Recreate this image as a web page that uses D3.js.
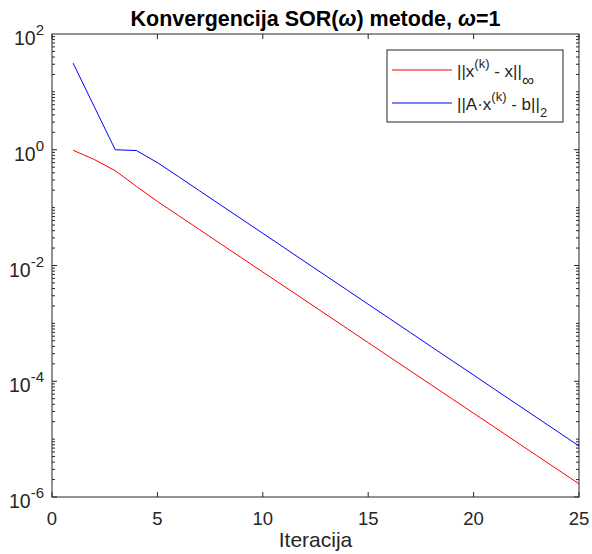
<!DOCTYPE html>
<html lang="en">
<head>
<meta charset="utf-8">
<title>Konvergencija SOR</title>
<script src="https://d3js.org/d3.v7.min.js"></script>
<style>
  body{margin:0;background:#fff;font-family:"Liberation Sans",Arial,sans-serif;}
  text{fill:#262626;}
</style>
</head>
<body>
<div id="chart"></div>
<script>
// data
var iter = [1,2,3,4,5,6,7,8,9,10,11,12,13,14,15,16,17,18,19,20,21,22,23,24,25]
var errInf = [0.98,0.68,0.434,0.234,0.128,0.073,0.0416,0.0237,0.0135,0.00771,0.0044,0.00251,0.00143,
              8.15e-4,4.65e-4,2.65e-4,1.51e-4,8.61e-5,4.91e-5,2.8e-5,1.6e-5,9.1e-6,5.19e-6,2.96e-6,1.69e-6]
var resid2 = [31.4,5.6,1.0,0.97,0.60,0.344,0.195,0.111,0.0632,0.036,0.0205,0.0116,0.00662,0.00377,
              0.00214,0.00122,6.93e-4,3.94e-4,2.24e-4,1.28e-4,7.26e-5,4.13e-5,2.35e-5,1.34e-5,7.6e-6]
var xTicks = [0,5,10,15,20,25]
var yExps = [2,0,-2,-4,-6]

var W = 592, H = 554
var m = {left:52, right:579, top:34, bottom:497}

var svg = d3.select("#chart").append("svg")
    .attr("width",W).attr("height",H)

var x = d3.scaleLinear().domain([0,25]).range([m.left,m.right])
var y = d3.scaleLog().domain([1e-6,1e2]).range([m.bottom,m.top])

var axCol = "#262626"

// box
svg.append("rect")
    .attr("x",m.left).attr("y",m.top)
    .attr("width",m.right-m.left).attr("height",m.bottom-m.top)
    .attr("fill","none").attr("stroke",axCol).attr("stroke-width",1)

// x ticks (inside, top and bottom)
xTicks.forEach(function(t){
    svg.append("line").attr("x1",x(t)).attr("x2",x(t)).attr("y1",m.bottom).attr("y2",m.bottom-5).attr("stroke",axCol)
    svg.append("line").attr("x1",x(t)).attr("x2",x(t)).attr("y1",m.top).attr("y2",m.top+5).attr("stroke",axCol)
    svg.append("text").attr("x",x(t)).attr("y",525)
        .attr("text-anchor","middle").style("font-size","18.5px").text(t)
})

// y ticks, majors every 2 decades with labels, minor ticks each decade
for (var e=-6; e<2; e++){
    for (var k=1; k<10; k++){
        var v = k*Math.pow(10,e)
        var len = (k==1) ? 5 : 3
        if (k==1 && (e%2)!=0) len = 3
        svg.append("line").attr("x1",m.left).attr("x2",m.left+len).attr("y1",y(v)).attr("y2",y(v)).attr("stroke",axCol)
        svg.append("line").attr("x1",m.right).attr("x2",m.right-len).attr("y1",y(v)).attr("y2",y(v)).attr("stroke",axCol)
    }
}
yExps.forEach(function(e){
    var t = svg.append("text").attr("x",m.left-8).attr("y",y(Math.pow(10,e))+11)
        .attr("text-anchor","end").style("font-size","19.5px")
    t.append("tspan").text("10")
    t.append("tspan").attr("dy",-10).style("font-size","15px").text(e)
})

// lines
var line = d3.line().x(function(d){return x(d[0])}).y(function(d){return y(d[1])})
svg.append("path").datum(d3.zip(iter,errInf)).attr("d",line)
    .attr("fill","none").attr("stroke","#ff0000").attr("stroke-width",1)
svg.append("path").datum(d3.zip(iter,resid2)).attr("d",line)
    .attr("fill","none").attr("stroke","#0000ff").attr("stroke-width",1)

// title
var tt = svg.append("text").attr("x",(m.left+m.right)/2).attr("y",26)
    .attr("text-anchor","middle").style("font-size","21.5px").style("font-weight","bold").style("fill","#000")
tt.append("tspan").text("Konvergencija SOR(")
tt.append("tspan").style("font-style","italic").text("\u03c9")
tt.append("tspan").text(") metode, ")
tt.append("tspan").style("font-style","italic").text("\u03c9")
tt.append("tspan").text("=1")

// x label
svg.append("text").attr("x",(m.left+m.right)/2).attr("y",547)
    .attr("text-anchor","middle").style("font-size","21px").text("Iteracija")

// legend
var lg = svg.append("g")
lg.append("rect").attr("x",387).attr("y",50).attr("width",176).attr("height",72)
    .attr("fill","#fff").attr("stroke",axCol).attr("stroke-width",1)
var rows = [{c:"#ff0000", y:70}, {c:"#0000ff", y:103}]
rows.forEach(function(r){
    lg.append("line").attr("x1",392).attr("x2",452).attr("y1",r.y).attr("y2",r.y)
        .attr("stroke",r.c).attr("stroke-width",1)
})
var l1 = lg.append("text").attr("x",457).attr("y",77).style("font-size","17px")
l1.append("tspan").text("||x")
l1.append("tspan").attr("dy",-9).style("font-size","13px").text("(k)")
l1.append("tspan").attr("dy",9).text(" - x||")
l1.append("tspan").attr("dy",9).style("font-size","17px").text("\u221e")
var l2 = lg.append("text").attr("x",457).attr("y",110).style("font-size","17px")
l2.append("tspan").text("||A\u00b7x")
l2.append("tspan").attr("dy",-9).style("font-size","13px").text("(k)")
l2.append("tspan").attr("dy",9).text(" - b||")
l2.append("tspan").attr("dy",7).style("font-size","13px").text("2")
</script>
</body>
</html>
